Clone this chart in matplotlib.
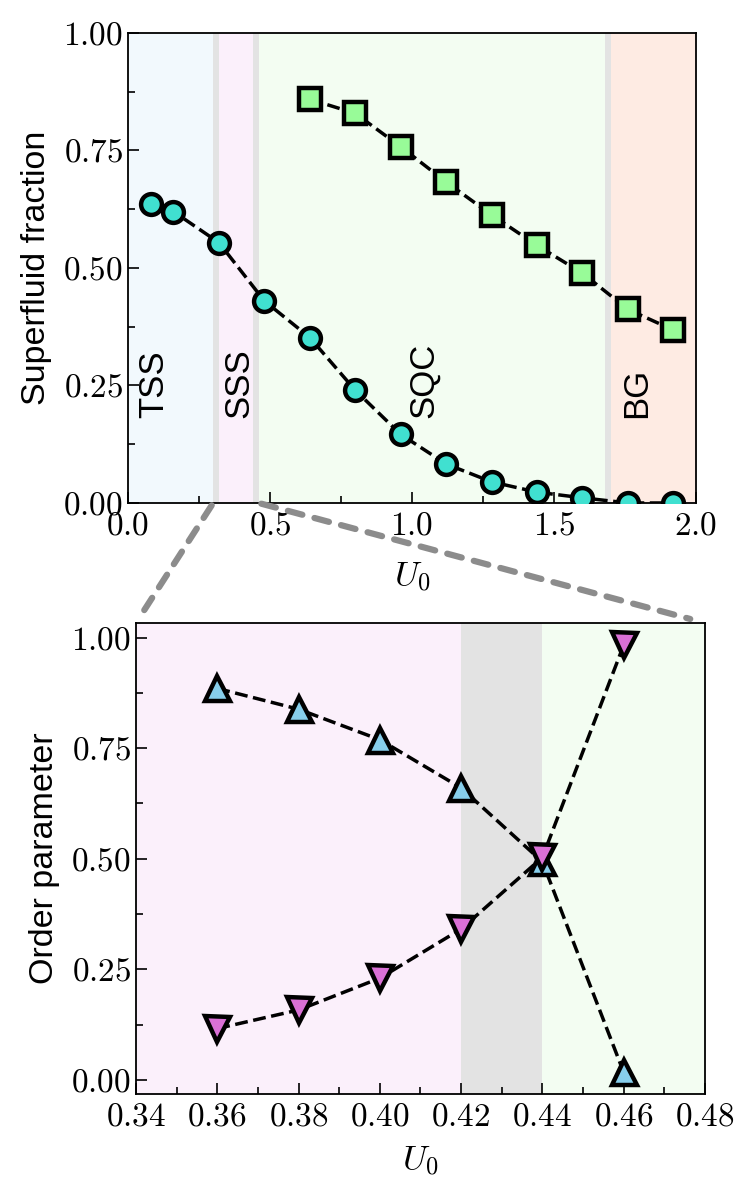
import numpy as np
import matplotlib
matplotlib.use("Agg")
from matplotlib import pyplot as plt
from matplotlib.patches import ConnectionPatch
from matplotlib.ticker import MultipleLocator

# 字体设置：刻度用 Computer Modern，标签用无衬线
plt.rcParams["font.family"] = "serif"
plt.rcParams["font.serif"] = ["cmr10"]
plt.rcParams["mathtext.fontset"] = "cm"
plt.rcParams["axes.formatter.use_mathtext"] = True
SANS = "Liberation Sans"

# ---- 上图数据 ----
u_circle = [0.08, 0.16, 0.32, 0.48, 0.64, 0.80, 0.96, 1.12, 1.28, 1.44, 1.60, 1.76, 1.92]
sf_circle = [0.636, 0.620, 0.554, 0.430, 0.352, 0.240, 0.146, 0.083, 0.045, 0.023, 0.011, 0.0, 0.0]
u_square = [0.64, 0.80, 0.96, 1.12, 1.28, 1.44, 1.60, 1.76, 1.92]
sf_square = [0.859, 0.829, 0.758, 0.683, 0.613, 0.548, 0.489, 0.412, 0.368]

# 相区（边界, 颜色）
phase_edges = [0.0, 0.30, 0.32, 0.44, 0.46, 1.68, 1.70, 2.0]
phase_colors = ["#f2f9fd", "#e3e3e3", "#fbf0fb", "#e3e3e3", "#f3fdf2", "#e3e3e3", "#feebe3"]
phase_names = ["TSS", "SSS", "SQC", "BG"]
phase_text_x = [0.09, 0.39, 1.04, 1.79]

# ---- 下图数据 ----
u_zoom = [0.36, 0.38, 0.40, 0.42, 0.44, 0.46]
op_up = [0.885, 0.838, 0.769, 0.660, 0.493, 0.017]
op_down = [0.116, 0.158, 0.230, 0.341, 0.503, 0.983]
zoom_edges = [0.34, 0.42, 0.44, 0.48]
zoom_colors = ["#fbf0fb", "#e3e3e3", "#f3fdf2"]

fig = plt.figure(figsize=(7.46, 11.95), dpi=100)
ax1 = fig.add_axes([0.1716, 0.5791, 0.7614, 0.3933])
ax2 = fig.add_axes([0.1823, 0.0845, 0.7627, 0.3942])

# 1.上图背景
for i in range(len(phase_colors)):
    ax1.axvspan(phase_edges[i], phase_edges[i + 1], color=phase_colors[i], lw=0, zorder=0)
for name, x in zip(phase_names, phase_text_x):
    ax1.text(x, 0.18, name, rotation=90, ha="center", va="bottom",
             fontsize=25, family=SANS, zorder=1)

# 2.上图曲线
ax1.plot(u_circle, sf_circle, color="k", linestyle="--", lw=2.5, marker="o",
         ms=15, mfc="turquoise", mec="k", mew=3.2, zorder=3)
ax1.plot(u_square, sf_square, color="k", linestyle="--", lw=2.5, marker="s",
         ms=16.5, mfc="palegreen", mec="k", mew=3.2, zorder=3)
ax1.set_xlim(0, 2.0)
ax1.set_ylim(0, 1.0)
ax1.xaxis.set_major_locator(MultipleLocator(0.5))
ax1.xaxis.set_minor_locator(MultipleLocator(0.25))
ax1.yaxis.set_major_locator(MultipleLocator(0.25))
ax1.yaxis.set_minor_locator(MultipleLocator(0.125))
ax1.set_xlabel(r"$U_0$", fontsize=25, labelpad=14)
ax1.set_ylabel("Superfluid fraction", fontsize=24.5, family=SANS, labelpad=8)

# 3.下图背景和曲线
for i in range(len(zoom_colors)):
    ax2.axvspan(zoom_edges[i], zoom_edges[i + 1], color=zoom_colors[i], lw=0, zorder=0)
ax2.plot(u_zoom, op_up, color="k", linestyle="--", lw=2.5, marker="^",
         ms=18, mfc="skyblue", mec="k", mew=3.2, zorder=3)
ax2.plot(u_zoom, op_down, color="k", linestyle="--", lw=2.5, marker="v",
         ms=18, mfc="orchid", mec="k", mew=3.2, zorder=3)
ax2.set_xlim(0.34, 0.48)
ax2.set_ylim(-0.032, 1.033)
ax2.xaxis.set_major_locator(MultipleLocator(0.02))
ax2.xaxis.set_minor_locator(MultipleLocator(0.01))
ax2.yaxis.set_major_locator(MultipleLocator(0.25))
ax2.yaxis.set_minor_locator(MultipleLocator(0.125))
ax2.set_xlabel(r"$U_0$", fontsize=25, labelpad=9)
ax2.set_ylabel("Order parameter", fontsize=24.5, family=SANS, labelpad=8)

# 4.刻度与边框
for ax in (ax1, ax2):
    ax.tick_params(which="both", direction="in", labelsize=24, width=1.2)
    ax.tick_params(which="major", length=8)
    ax.tick_params(which="minor", length=5)
    ax.tick_params(axis="x", pad=6)
    for s in ax.spines.values():
        s.set_linewidth(1.3)

# 5.放大区域连线
for xa, xb in ((0.30, 0.0), (0.46, 1.0)):
    con = ConnectionPatch(xyA=(xa, 0.0), coordsA=ax1.transData,
                          xyB=(xb, 1.0), coordsB=ax2.transAxes,
                          color="#8c8c8c", lw=4.5, linestyle=(0, (2.4, 2.0)),
                          shrinkA=2, shrinkB=11)
    fig.add_artist(con)

fig.savefig("out.png", dpi=100)
